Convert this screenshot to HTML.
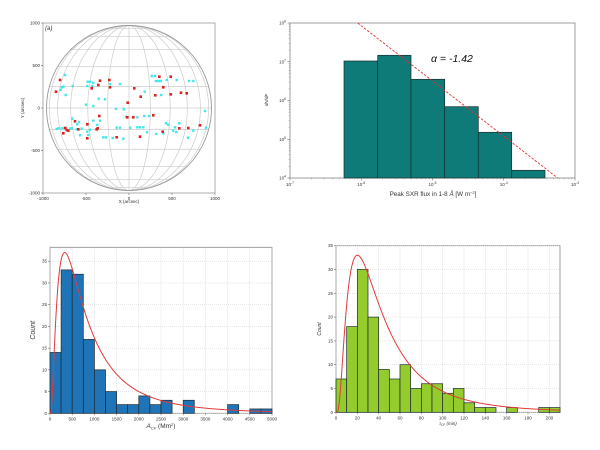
<!DOCTYPE html>
<html><head><meta charset="utf-8"><style>
html,body{margin:0;padding:0;background:#fff;}
svg{display:block;font-family:"Liberation Sans",sans-serif;}
</style></head><body>
<svg id="s" width="600" height="450" xmlns="http://www.w3.org/2000/svg"></svg>
<script>
var o=[];
function L(x1,y1,x2,y2,st){o.push('<line x1="'+x1+'" y1="'+y1+'" x2="'+x2+'" y2="'+y2+'" style="'+st+'"/>');}
function T(x,y,t,st){o.push('<text x="'+x+'" y="'+y+'" style="'+st+'">'+t+'</text>');}
var tk='font-size:4.5px;fill:#333;';
// ---------- Panel A: solar disk ----------
var ax0=43,ax1=215,ay0=23,ay1=193,cx=129,cy=108,R=82.5;
function px(v){return cx+v*(ax1-ax0)/2000;}
function py(v){return cy-v*(ay1-ay0)/2000;}
o.push('<rect x="'+ax0+'" y="'+ay0+'" width="'+(ax1-ax0)+'" height="'+(ay1-ay0)+'" fill="#fff" stroke="#999" stroke-width="0.8"/>');
for(var lat=-75;lat<=75;lat+=15){var y=cy-R*Math.sin(lat*Math.PI/180),w=R*Math.cos(lat*Math.PI/180);L(cx-w,y,cx+w,y,'stroke:#ccc;stroke-width:0.7');}
for(var lon=15;lon<90;lon+=15){var rx=R*Math.sin(lon*Math.PI/180);o.push('<ellipse cx="'+cx+'" cy="'+cy+'" rx="'+rx.toFixed(2)+'" ry="'+R+'" fill="none" stroke="#ccc" stroke-width="0.7"/>');}
L(cx,cy-R,cx,cy+R,'stroke:#ccc;stroke-width:0.7');
o.push('<circle cx="'+cx+'" cy="'+cy+'" r="'+R+'" fill="none" stroke="#999" stroke-width="0.9"/>');
var cyan=[[195,225],[185,262],[190,260],[197,285],[182,270],[218,258],[263,245],[270,245],[280,248],[277,258],[262,258],[296,296],[315,298],[330,252],[360,252],[258,314],[280,318],[348,326],[371,328],[378,350],[412,352],[433,348],[447,348],[434,275],[455,228],[465,228],[475,243],[482,243],[500,240],[530,240],[567,243],[580,243],[484,285],[615,333],[217,356],[237,366],[232,373],[280,362],[300,362],[292,375],[170,387],[175,385],[185,385],[210,386],[215,385],[245,386],[262,395],[270,389],[240,406],[265,405],[310,412],[318,412],[338,414],[370,416],[350,383],[360,383],[391,383],[412,382],[420,382],[430,382],[441,397],[469,402],[490,400],[498,370],[505,374],[525,382],[529,396],[538,370],[538,385],[564,413],[580,392],[618,383],[468,243],[520,392],[193,384],[230,388]];
var red=[[168,275],[180,240],[275,265],[300,242],[295,255],[330,262],[328,240],[383,308],[403,265],[422,290],[466,286],[478,230],[490,262],[512,230],[512,283],[543,278],[560,280],[600,376],[382,352],[400,352],[298,348],[262,373],[225,364],[196,384],[190,400],[200,390],[205,392],[235,388],[262,415],[290,388],[293,385],[350,412],[420,410],[460,346],[488,395],[538,385],[565,384]];
cyan.forEach(function(p){o.push('<rect x="'+(p[0]/3-1.2).toFixed(1)+'" y="'+(p[1]/3-1.2).toFixed(1)+'" width="2.4" height="2.4" fill="#3ee8e8"/>');});
red.forEach(function(p){o.push('<rect x="'+(p[0]/3-1.3).toFixed(1)+'" y="'+(p[1]/3-1.3).toFixed(1)+'" width="2.6" height="2.6" fill="#e0201c"/>');});
[-1000,-500,0,500,1000].forEach(function(v){L(px(v),ay1,px(v),ay1+2,'stroke:#555;stroke-width:0.5');T(px(v),ay1+7,v,tk+'text-anchor:middle');L(ax0-2,py(v),ax0,py(v),'stroke:#555;stroke-width:0.5');T(ax0-3,py(v)+1.5,v,tk+'text-anchor:end');});
T(129,203,'X (arcsec)',tk+'text-anchor:middle');
o.push('<text x="24" y="108" transform="rotate(-90 24 108)" style="'+tk+'text-anchor:middle">Y (arcsec)</text>');
T(45,30,'(a)','font-size:6px;font-style:italic;fill:#333');
// ---------- Panel B: log histogram ----------
var bx0=290,bx1=575,by0=23,by1=178;
o.push('<rect x="'+bx0+'" y="'+by0+'" width="'+(bx1-bx0)+'" height="'+(by1-by0)+'" fill="#fff" stroke="#888" stroke-width="0.8"/>');
var ed=[344,377.7,411,444.7,478.3,511.7,545],tops=[61,55.3,79.3,106.7,132.3,170.3];
for(var i=0;i<6;i++)o.push('<rect x="'+ed[i]+'" y="'+tops[i]+'" width="'+(ed[i+1]-ed[i]).toFixed(1)+'" height="'+(by1-tops[i]).toFixed(1)+'" fill="#0e7b78" stroke="#1a2e2e" stroke-width="0.7"/>');
L(357.7,23,557.7,178,'stroke:#e03030;stroke-width:0.9;stroke-dasharray:2.5,1.5');
T(431,62,'α = -1.42','font-size:10.5px;font-style:italic;fill:#111');
var exX=['-7','-6','-5','-4','-3'];
for(var d=0;d<=4;d++){var x=bx0+d*(bx1-bx0)/4;L(x,by1,x,by1+2.5,'stroke:#555;stroke-width:0.5');o.push('<text x="'+x+'" y="'+(by1+8)+'" style="'+tk+'text-anchor:middle">10<tspan dy="-2" font-size="3.3px">'+exX[d]+'</tspan></text>');
 if(d<4)for(var m=2;m<10;m++){var xm=x+Math.log10(m)*(bx1-bx0)/4;L(xm,by1,xm,by1+1.3,'stroke:#777;stroke-width:0.4');}}
for(var d=0;d<=4;d++){var y=by1-d*(by1-by0)/4;L(bx0-2.5,y,bx0,y,'stroke:#555;stroke-width:0.5');o.push('<text x="'+(bx0-4)+'" y="'+(y+1.5)+'" style="'+tk+'text-anchor:end">10<tspan dy="-2" font-size="3.3px">'+(4+d)+'</tspan></text>');
 if(d<4)for(var m=2;m<10;m++){var ym=y-Math.log10(m)*(by1-by0)/4;L(bx0-1.3,ym,bx0,ym,'stroke:#777;stroke-width:0.4');}}
o.push('<text x="433" y="196" style="font-size:6.3px;fill:#333;text-anchor:middle">Peak SXR flux in 1-8 <tspan font-style="italic">Å</tspan> [W <tspan font-style="italic">m</tspan><tspan dy="-2" font-size="4px">−2</tspan><tspan dy="2">]</tspan></text>');
o.push('<text x="268" y="100" transform="rotate(-90 268 100)" style="'+tk+'text-anchor:middle;font-style:italic">dN/dF</text>');
// ---------- generic histogram ----------
function hist(x0,x1,y0,y1,xmax,ymax,bw,counts,col,xt,yt,mu,s,peak,xl,yl,yls){
 function X(v){return x0+v/xmax*(x1-x0);}function Y(v){return y1-v/ymax*(y1-y0);}
 o.push('<rect x="'+x0+'" y="'+y0+'" width="'+(x1-x0)+'" height="'+(y1-y0)+'" fill="#fff" stroke="#888" stroke-width="0.8"/>');
 xt.forEach(function(v){L(X(v),y0,X(v),y1,'stroke:#ccc;stroke-width:0.5;stroke-dasharray:1,1');});
 yt.forEach(function(v){L(x0,Y(v),x1,Y(v),'stroke:#ccc;stroke-width:0.5;stroke-dasharray:1,1');});
 counts.forEach(function(c,i){if(c>0){var a=X(i*bw),b=X(Math.min((i+1)*bw,xmax));o.push('<rect x="'+a.toFixed(2)+'" y="'+Y(c).toFixed(2)+'" width="'+(b-a).toFixed(2)+'" height="'+(y1-Y(c)).toFixed(2)+'" fill="'+col+'" stroke="#1d2a33" stroke-width="0.7"/>');}});
 var mode=Math.exp(mu-s*s),f=function(x){return Math.exp(-Math.pow(Math.log(x)-mu,2)/(2*s*s))/x;},k=peak/f(mode),pts=[];
 for(var j=1;j<=400;j++){var v=xmax*j/400;pts.push(X(v).toFixed(2)+','+Y(k*f(v)).toFixed(2));}
 o.push('<polyline points="'+X(0)+','+y1+' '+pts.join(' ')+'" fill="none" stroke="#e03a3a" stroke-width="1"/>');
 xt.forEach(function(v){L(X(v),y1,X(v),y1+2,'stroke:#555;stroke-width:0.5');T(X(v),y1+7,v,tk+'text-anchor:middle');});
 yt.forEach(function(v){L(x0-2,Y(v),x0,Y(v),'stroke:#555;stroke-width:0.5');T(x0-3,Y(v)+1.5,v,tk+'text-anchor:end');});
 o.push(xl);
 var ly=(y0+y1)/2,lx=x0-15;o.push('<text x="'+lx+'" y="'+ly+'" transform="rotate(-90 '+lx+' '+ly+')" style="'+yls+'text-anchor:middle;font-style:italic;fill:#333">'+yl+'</text>');
}
hist(50,272,247.3,413.3,5000,38.2,250,[14,33,32,17,10,5,2,2,4,2,3,0,3,0,0,0,2,0,1,1],'#1f74b8',
 [0,500,1000,1500,2000,2500,3000,3500,4000,4500,5000],[0,5,10,15,20,25,30,35],6.61,0.9,37,
 '<text x="161" y="428" style="font-size:6.5px;fill:#333;text-anchor:middle"><tspan font-style="italic">A</tspan><tspan font-size="4px" dy="1.5" font-style="italic">CF</tspan><tspan dy="-1.5"> (Mm</tspan><tspan dy="-2" font-size="4px">2</tspan><tspan dy="2">)</tspan></text>','Count','font-size:7px;');
hist(336,560,245.7,412.3,210,35,10,[7,18,30,20,9,7,10,5,6,6,4,5,2,1,1,0,1,0,0,1,1],'#93cc2c',
 [0,20,40,60,80,100,120,140,160,180,200],[0,5,10,15,20,25,30,35],3.64,0.8,33,
 '<text x="448" y="425" style="font-size:4.5px;fill:#333;text-anchor:middle;font-style:italic">τ<tspan font-size="3.3px" dy="1">CF</tspan><tspan dy="-1"> (min)</tspan></text>','Count','font-size:5px;');
document.getElementById('s').innerHTML=o.join('');
</script>
</body></html>
